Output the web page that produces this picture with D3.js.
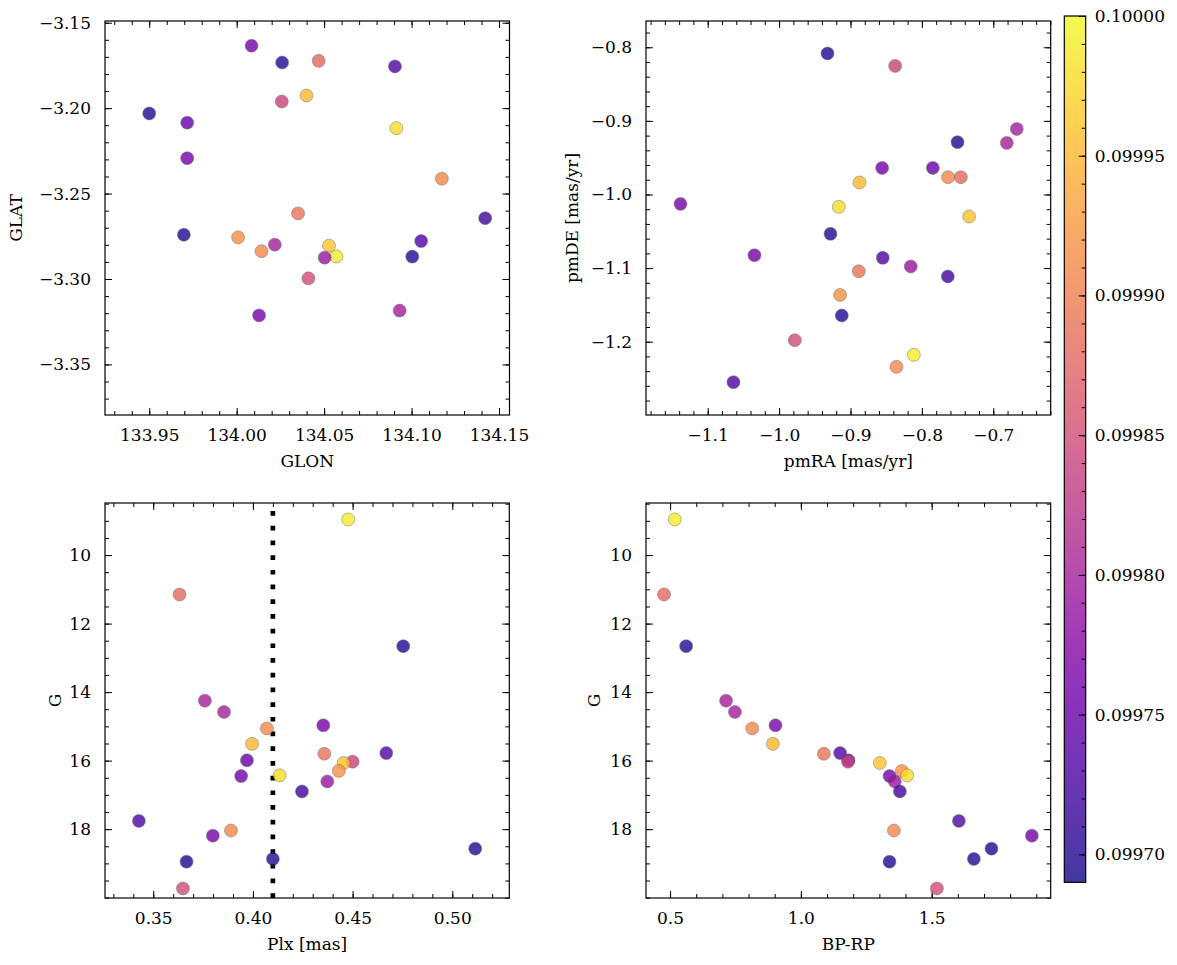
<!DOCTYPE html>
<html>
<head>
<meta charset="utf-8">
<script src="https://cdn.jsdelivr.net/npm/d3@7"></script>
<style>
  html, body { margin: 0; padding: 0; background: #fff; }
  text { font-family: "DejaVu Serif", serif; fill: #000; }
</style>
</head>
<body>
<svg id="chart" width="1177" height="965"></svg>
<script>
// ---- data (one entry per star) ----
const prob = [0.09999, 0.09988, 0.09970, 0.09980, 0.09980, 0.09991, 0.09976, 0.09995, 0.09989, 0.09973,
              0.09975, 0.09984, 0.09996, 0.09992, 0.09998, 0.09976, 0.09979, 0.09972, 0.09973, 0.09991,
              0.09976, 0.09970, 0.09970, 0.09970, 0.09985];
const plx  = [0.4478, 0.3632, 0.4754, 0.3759, 0.3855, 0.4070, 0.4353, 0.3996, 0.4358, 0.4669,
              0.3970, 0.4500, 0.4455, 0.4431, 0.4134, 0.3941, 0.4373, 0.4246, 0.3428, 0.3890,
              0.3799, 0.5115, 0.4100, 0.3667, 0.3649];
const gmag = [8.96, 11.15, 12.66, 14.25, 14.58, 15.06, 14.97, 15.51, 15.80, 15.78,
              15.99, 16.03, 16.07, 16.30, 16.43, 16.45, 16.61, 16.90, 17.76, 18.04,
              18.19, 18.57, 18.87, 18.95, 19.73];
const bprp = [0.518, 0.477, 0.5615, 0.714, 0.748, 0.814, 0.903, 0.893, 1.088, 1.150,
              1.182, 1.180, 1.302, 1.386, 1.4065, 1.339, 1.359, 1.3785, 1.604, 1.3555,
              1.883, 1.7287, 1.6614, 1.3387, 1.52];
const glon = [134.057, 134.0469, 134.026, 134.0932, 134.0218, 134.1173, 134.0085, 134.0399, 134.0351, 134.0905,
              133.9717, 134.0258, 134.0528, 134.0008, 134.0913, 133.9717, 134.0503, 134.1421, 134.1055, 134.0142,
              134.0128, 133.950, 133.9698, 134.1004, 134.041];
const glat = [-3.2868, -3.1723, -3.1733, -3.3185, -3.2799, -3.2413, -3.1635, -3.1926, -3.2616, -3.1756,
              -3.2085, -3.1961, -3.2805, -3.2756, -3.2117, -3.2293, -3.2875, -3.2644, -3.2778, -3.2837,
              -3.3213, -3.2031, -3.2741, -3.2869, -3.2996];
const pmra = [-0.8113, -0.7455, -0.9322, -0.6671, -0.6811, -0.7633, -0.8557, -0.8874, -0.8884, -0.8548,
              -0.7847, -0.8375, -0.7339, -0.9146, -0.9164, -1.1381, -0.8156, -0.7637, -1.0639, -0.8356,
              -1.0345, -0.7501, -0.928, -0.9122, -0.978];
const pmde = [-1.2179, -0.9765, -0.8084, -0.9109, -0.9299, -0.9765, -0.9639, -0.9837, -1.1042, -1.0861,
              -0.9639, -0.8253, -1.0299, -1.1364, -1.0168, -1.0128, -1.0978, -1.1114, -1.255, -1.2342,
              -1.0825, -0.9289, -1.0535, -1.1644, -1.198];

const plxLine = 0.41;
const glonTicks = [133.95, 134.00, 134.05, 134.10, 134.15];
const glatTicks = [-3.15, -3.20, -3.25, -3.30, -3.35];
const pmraTicks = [-1.1, -1.0, -0.9, -0.8, -0.7];
const pmdeTicks = [-0.8, -0.9, -1.0, -1.1, -1.2];
const plxTicks  = [0.35, 0.40, 0.45, 0.50];
const gTicks    = [10, 12, 14, 16, 18];
const bprpTicks = [0.5, 1.0, 1.5];
const cbTicks   = [0.10000, 0.09995, 0.09990, 0.09985, 0.09980, 0.09975, 0.09970];

const stars = prob.map((p, i) => ({p, plx: plx[i], g: gmag[i], bprp: bprp[i],
  glon: glon[i], glat: glat[i], pmra: pmra[i], pmde: pmde[i]}));

// ---- layout ----
const svg = d3.select("#chart");
const color = d3.scaleSequential(d3.interpolatePlasma).domain([0.09969, 0.10000]);
const ALPHA = 0.8;
const minus = s => s.replace("-", "\u2212");

function panel(o) {
  const g = svg.append("g");
  const x = d3.scaleLinear().domain(o.xd).range([o.x, o.x + o.w]);
  const y = d3.scaleLinear().domain(o.yd).range([o.y + o.h, o.y]);
  const fmtX = v => minus(d3.format(o.xf)(v));
  const fmtY = v => minus(d3.format(o.yf)(v));
  const xMinor = d3.range(Math.ceil(o.xd[0] / o.xm - 1e-6), Math.floor(o.xd[1] / o.xm + 1e-6) + 1).map(k => k * o.xm);
  const ymin = Math.min(...o.yd), ymax = Math.max(...o.yd);
  const yMinor = d3.range(Math.ceil(ymin / o.ym - 1e-6), Math.floor(ymax / o.ym + 1e-6) + 1).map(k => k * o.ym);

  const mk = (axis, ticks, size, fmt) => axis.tickValues(ticks).tickSizeInner(size).tickSizeOuter(0).tickFormat(fmt);
  const drawAxis = (gen, tr) => {
    const a = g.append("g").attr("transform", tr).call(gen);
    a.select(".domain").remove();
    a.selectAll("line").attr("stroke", "#000").attr("stroke-width", 1);
    a.selectAll("text").attr("font-size", 17).style("font-family", '"DejaVu Serif", serif').attr("fill", "#000");
    return a;
  };
  // bottom
  drawAxis(mk(d3.axisBottom(x), xMinor, -4, ""), `translate(0,${o.y + o.h})`);
  const xb = drawAxis(mk(d3.axisBottom(x), o.xt, -7, fmtX), `translate(0,${o.y + o.h})`);
  xb.selectAll("text").attr("y", 14).attr("dy", "0.71em");
  // top
  drawAxis(mk(d3.axisTop(x), xMinor, -4, ""), `translate(0,${o.y})`);
  drawAxis(mk(d3.axisTop(x), o.xt, -7, ""), `translate(0,${o.y})`);
  // left
  drawAxis(mk(d3.axisLeft(y), yMinor, -4, ""), `translate(${o.x},0)`);
  const yl = drawAxis(mk(d3.axisLeft(y), o.yt, -7, fmtY), `translate(${o.x},0)`);
  yl.selectAll("text").attr("x", -14);
  // right
  drawAxis(mk(d3.axisRight(y), yMinor, -4, ""), `translate(${o.x + o.w},0)`);
  drawAxis(mk(d3.axisRight(y), o.yt, -7, ""), `translate(${o.x + o.w},0)`);

  const cid = "clip" + Math.round(o.x) + "_" + Math.round(o.y);
  svg.append("clipPath").attr("id", cid).append("rect")
    .attr("x", o.x).attr("y", o.y).attr("width", o.w).attr("height", o.h);
  const plot = g.append("g").attr("clip-path", `url(#${cid})`);

  if (o.vline !== undefined) {
    plot.append("line")
      .attr("x1", x(o.vline)).attr("x2", x(o.vline))
      .attr("y1", o.y + o.h).attr("y2", o.y)
      .attr("stroke", "#000").attr("stroke-width", 4.7)
      .attr("stroke-dasharray", "4.7 10");
  }

  plot.selectAll("circle").data(stars).join("circle")
    .attr("cx", d => x(d[o.xk])).attr("cy", d => y(d[o.yk]))
    .attr("r", 6.5)
    .attr("fill", d => color(d.p))
    .attr("stroke", "#555").attr("stroke-width", 0.5)
    .attr("opacity", ALPHA);

  g.append("rect").attr("x", o.x).attr("y", o.y).attr("width", o.w).attr("height", o.h)
    .attr("fill", "none").attr("stroke", "#000").attr("stroke-width", 1.2);

  g.append("text").attr("x", o.x + o.w / 2).attr("y", o.y + o.h + 52)
    .attr("text-anchor", "middle").attr("font-size", 17).text(o.xl);
  g.append("text").attr("transform", `translate(${o.ylx},${o.y + o.h / 2}) rotate(-90)`)
    .attr("text-anchor", "middle").attr("dy", "0.35em").attr("font-size", 17).text(o.yl);
}

panel({x: 105, y: 21, w: 404.5, h: 394, xd: [133.9247, 134.156], yd: [-3.3796, -3.149],
  xt: glonTicks, yt: glatTicks, xm: 0.01, ym: 0.01, xf: ".2f", yf: ".2f",
  xk: "glon", yk: "glat", xl: "GLON", yl: "GLAT", ylx: 16});
panel({x: 646, y: 21, w: 404.7, h: 394, xd: [-1.1864, -0.6196], yd: [-1.2996, -0.7643],
  xt: pmraTicks, yt: pmdeTicks, xm: 0.02, ym: 0.02, xf: ".1f", yf: ".1f",
  xk: "pmra", yk: "pmde", xl: "pmRA [mas/yr]", yl: "pmDE [mas/yr]", ylx: 572});
panel({x: 105, y: 503, w: 404.3, h: 395, xd: [0.3258, 0.5286], yd: [20.01, 8.48],
  xt: plxTicks, yt: gTicks, xm: 0.01, ym: 0.5, xf: ".2f", yf: "d",
  xk: "plx", yk: "g", xl: "Plx [mas]", yl: "G", ylx: 55, vline: plxLine});
panel({x: 646, y: 503, w: 404.7, h: 395, xd: [0.408, 1.955], yd: [20.01, 8.48],
  xt: bprpTicks, yt: gTicks, xm: 0.1, ym: 0.5, xf: ".1f", yf: "d",
  xk: "bprp", yk: "g", xl: "BP-RP", yl: "G", ylx: 594});

// ---- colorbar ----
const cb = {x: 1064.3, y: 16, w: 21.4, h: 866.3};
const cy = d3.scaleLinear().domain(color.domain()).range([cb.y + cb.h, cb.y]);
const defs = svg.append("defs");
const grad = defs.append("linearGradient").attr("id", "cbgrad")
  .attr("x1", 0).attr("y1", 1).attr("x2", 0).attr("y2", 0);
d3.range(0, 1.0001, 0.02).forEach(t => {
  grad.append("stop").attr("offset", t).attr("stop-color", d3.interpolatePlasma(t));
});
svg.append("rect").attr("x", cb.x).attr("y", cb.y).attr("width", cb.w).attr("height", cb.h)
  .attr("fill", "url(#cbgrad)").attr("opacity", ALPHA);
const cbMinor = d3.range(0, 31).map(k => +(0.09970 + k * 0.00001).toFixed(5));
const cbAxisMinor = d3.axisRight(cy).tickValues(cbMinor).tickSizeInner(-4).tickSizeOuter(0).tickFormat("");
const cbAxis = d3.axisRight(cy).tickValues(cbTicks).tickSizeInner(-7).tickSizeOuter(0).tickFormat(d3.format(".5f"));
const ca1 = svg.append("g").attr("transform", `translate(${cb.x + cb.w},0)`).call(cbAxisMinor);
const ca2 = svg.append("g").attr("transform", `translate(${cb.x + cb.w},0)`).call(cbAxis);
[ca1, ca2].forEach(a => { a.select(".domain").remove(); a.selectAll("line").attr("stroke", "#000"); });
ca2.selectAll("text").attr("x", 9).attr("font-size", 17).style("font-family", '"DejaVu Serif", serif').attr("fill", "#000");
svg.append("rect").attr("x", cb.x).attr("y", cb.y).attr("width", cb.w).attr("height", cb.h)
  .attr("fill", "none").attr("stroke", "#000").attr("stroke-width", 1.2);
</script>
</body>
</html>
